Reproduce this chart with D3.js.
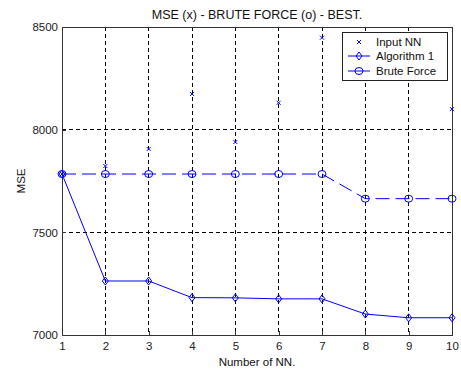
<!DOCTYPE html>
<html>
<head>
<meta charset="utf-8">
<script src="https://cdn.jsdelivr.net/npm/d3@7"></script>
<style>
  html, body { margin: 0; padding: 0; background: #fff; }
  svg { display: block; font-family: "Liberation Sans", Arial, sans-serif; }
</style>
</head>
<body>
<svg id="chart" width="461" height="369"></svg>
<script>
// ---- data ----
const nnValues = [1, 2, 3, 4, 5, 6, 7, 8, 9, 10];
const inputNN = [7784, 7823, 7906, 8174, 7940, 8131, 8448, null, null, 8100];
const algorithm1 = [7784, 7263, 7263, 7182, 7181, 7176, 7176, 7102, 7084, 7084];
const bruteForce = [7784, 7784, 7784, 7784, 7784, 7784, 7784, 7664, 7664, 7664];
const yTicks = [7000, 7500, 8000, 8500];
const xTicks = [1, 2, 3, 4, 5, 6, 7, 8, 9, 10];
const seriesNames = ["Input NN", "Algorithm 1", "Brute Force"];
const titleText = "MSE (x) - BRUTE FORCE (o) - BEST.";
const xLabel = "Number of NN.";
const yLabel = "MSE";

// ---- layout ----
const svg = d3.select("#chart");
const L = 62, R = 452, T = 27, B = 335;
const blue = "#0000ff";
const x = d3.scaleLinear().domain([1, 10]).range([L, R]);
const y = d3.scaleLinear().domain([7000, 8500]).range([B, T]);

// grid
const grid = svg.append("g");
grid.selectAll(".vg").data(xTicks.slice(1, -1)).join("line")
  .attr("x1", d => x(d)).attr("x2", d => x(d)).attr("y1", T).attr("y2", B)
  .attr("stroke", "#000").attr("stroke-width", 1).attr("stroke-dasharray", "4,3")
  .attr("shape-rendering", "crispEdges");
grid.selectAll(".hg").data(yTicks.slice(1, -1)).join("line")
  .attr("x1", L).attr("x2", R).attr("y1", d => y(d)).attr("y2", d => y(d))
  .attr("stroke", "#000").attr("stroke-width", 1).attr("stroke-dasharray", "4,3")
  .attr("shape-rendering", "crispEdges");

// axes
const xAxis = d3.axisBottom(x).tickValues(xTicks).tickSize(-4).tickPadding(7).tickFormat(d3.format("d"));
const yAxis = d3.axisLeft(y).tickValues(yTicks).tickSize(-4).tickPadding(4).tickFormat(d3.format("d"));
const gx = svg.append("g").attr("transform", `translate(0,${B})`).call(xAxis);
const gy = svg.append("g").attr("transform", `translate(${L},0)`).call(yAxis);
[gx, gy].forEach(g => {
  g.select(".domain").remove();
  g.selectAll("line").attr("stroke", "#333").attr("shape-rendering", "crispEdges");
  g.selectAll("text").attr("font-size", 11.5).attr("fill", "#222")
   .attr("font-family", "'Liberation Sans', Arial, sans-serif");
});
gx.selectAll("text").attr("dy", "0.71em");

// box
svg.append("rect").attr("x", L).attr("y", T).attr("width", R - L).attr("height", B - T)
  .attr("fill", "none").attr("stroke", "#333").attr("stroke-width", 1)
  .attr("shape-rendering", "crispEdges");

// lines
const line = d3.line().x((d, i) => x(nnValues[i])).y(d => y(d));
svg.append("path").datum(bruteForce).attr("d", line)
  .attr("fill", "none").attr("stroke", blue).attr("stroke-width", 1)
  .attr("stroke-dasharray", "14,6");
svg.append("path").datum(algorithm1).attr("d", line)
  .attr("fill", "none").attr("stroke", blue).attr("stroke-width", 1);

// markers
const diamond = (cx, cy) => `M${cx},${cy - 4}L${cx + 3},${cy}L${cx},${cy + 4}L${cx - 3},${cy}Z`;
svg.append("g").selectAll("path").data(algorithm1).join("path")
  .attr("d", (d, i) => diamond(x(nnValues[i]), y(d)))
  .attr("fill", "none").attr("stroke", blue).attr("stroke-width", 1);
svg.append("g").selectAll("ellipse").data(bruteForce).join("ellipse")
  .attr("cx", (d, i) => x(nnValues[i])).attr("cy", d => y(d))
  .attr("rx", 4).attr("ry", 3.5)
  .attr("fill", "none").attr("stroke", blue).attr("stroke-width", 1);
const cross = (cx, cy) => `M${cx - 2},${cy - 2}L${cx + 2},${cy + 2}M${cx - 2},${cy + 2}L${cx + 2},${cy - 2}`;
svg.append("g").selectAll("path")
  .data(inputNN.map((v, i) => ({ n: nnValues[i], v })).filter(d => d.v !== null))
  .join("path")
  .attr("d", d => cross(x(d.n), y(d.v)))
  .attr("fill", "none").attr("stroke", blue).attr("stroke-width", 1);

// title & labels
svg.append("text").attr("x", (L + R) / 2).attr("y", 19).attr("text-anchor", "middle")
  .attr("font-size", 12.5).attr("fill", "#111").text(titleText);
svg.append("text").attr("x", (L + R) / 2).attr("y", 366).attr("text-anchor", "middle")
  .attr("font-size", 11.5).attr("fill", "#111").text(xLabel);
svg.append("text").attr("transform", `translate(25,${(T + B) / 2}) rotate(-90)`)
  .attr("text-anchor", "middle").attr("font-size", 11.5).attr("fill", "#111").text(yLabel);

// legend
const lg = svg.append("g");
lg.append("rect").attr("x", 342.5).attr("y", 32.5).attr("width", 105).attr("height", 48)
  .attr("fill", "#fff").attr("stroke", "#222").attr("stroke-width", 1);
const rows = [42, 56, 71];
seriesNames.forEach((name, i) => {
  const cy = rows[i];
  const cx = 359;
  if (i === 0) {
    lg.append("path").attr("d", cross(cx, cy)).attr("stroke", blue).attr("fill", "none");
  } else {
    lg.append("line").attr("x1", 348).attr("x2", 370).attr("y1", cy).attr("y2", cy)
      .attr("stroke", blue).attr("stroke-width", 1);
    if (i === 1) lg.append("path").attr("d", diamond(cx, cy)).attr("stroke", blue).attr("fill", "none");
    else lg.append("ellipse").attr("cx", cx).attr("cy", cy).attr("rx", 4).attr("ry", 3.5)
      .attr("stroke", blue).attr("fill", "none");
  }
  lg.append("text").attr("x", 376).attr("y", cy + 4).attr("font-size", 11.5).attr("fill", "#111").text(name);
});
</script>
</body>
</html>
